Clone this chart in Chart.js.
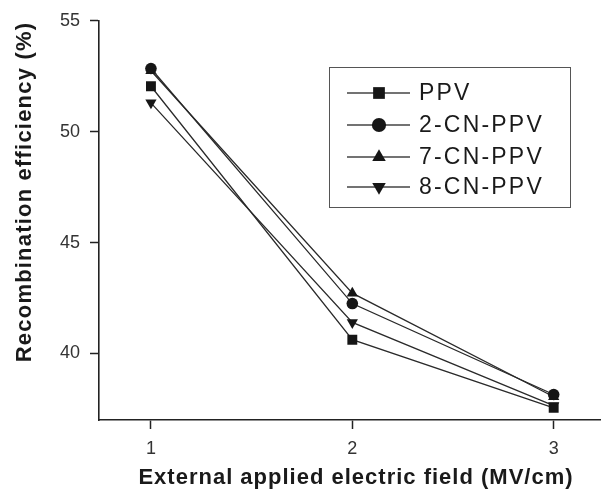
<!DOCTYPE html>
<html>
<head>
<meta charset="utf-8">
<script src="https://cdn.jsdelivr.net/npm/chart.js@4.4.1/dist/chart.umd.min.js"></script>
<style>
  html, body { margin: 0; padding: 0; background: #fff; }
  #wrap { width: 601px; height: 499px; position: relative; }
</style>
</head>
<body>
<div id="wrap"><canvas id="c" width="601" height="499"></canvas></div>
<script>
// ---- data ----
const fieldValues = [1, 2, 3];                 // MV/cm
const seriesNames = ['PPV', '2-CN-PPV', '7-CN-PPV', '8-CN-PPV'];
const ppv   = [52.05, 40.62, 37.55];
const cn2   = [52.85, 42.25, 38.15];
const cn7   = [52.75, 42.72, 38.05];
const cn8   = [51.30, 41.40, 37.65];
const xTickValues = [1, 2, 3];
const yTickValues = [40, 45, 50, 55];
const xTitle = 'External applied electric field (MV/cm)';
const yTitle = 'Recombination efficiency (%)';

// ---- styles ----
const FONT = '"Liberation Sans", Arial, Helvetica, sans-serif';
const markStyles = [
  { pointStyle: 'rect', radius: 7, rotation: 0 },
  { pointStyle: 'circle', radius: 5.8, rotation: 0 },
  { pointStyle: 'triangle', radius: 6.5, rotation: 0 },
  { pointStyle: 'triangle', radius: 6.5, rotation: 180 }
];
const seriesValues = [ppv, cn2, cn7, cn8];

const datasets = seriesValues.map((vals, i) => ({
  label: seriesNames[i],
  data: vals.map((v, k) => ({ x: fieldValues[k], y: v })),
  borderColor: '#2a2a2a',
  borderWidth: 1.3,
  backgroundColor: '#161616',
  pointBackgroundColor: '#161616',
  pointBorderColor: '#161616',
  pointBorderWidth: 0,
  pointStyle: markStyles[i].pointStyle,
  pointRadius: markStyles[i].radius,
  pointRotation: markStyles[i].rotation,
  tension: 0,
  fill: false
}));

const overlay = {
  id: 'overlay',
  afterDraw(chart) {
    const ctx = chart.ctx;
    ctx.save();
    // legend box
    const bx = 329.5, by = 67.5, bw = 241, bh = 140;
    ctx.strokeStyle = '#555';
    ctx.lineWidth = 1;
    ctx.strokeRect(bx, by, bw, bh);
    const rows = [93, 125, 157, 187];
    ctx.font = '23px ' + FONT;
    ctx.textBaseline = 'middle';
    ctx.textAlign = 'left';
    try { ctx.letterSpacing = '2.2px'; } catch (e) {}
    chart.data.datasets.forEach((ds, i) => {
      const y = rows[i];
      ctx.strokeStyle = '#444';
      ctx.lineWidth = 1.3;
      ctx.beginPath();
      ctx.moveTo(347, y);
      ctx.lineTo(410, y);
      ctx.stroke();
      ctx.fillStyle = '#161616';
      ctx.strokeStyle = '#161616';
      Chart.helpers.drawPoint(ctx, {
        pointStyle: ds.pointStyle,
        rotation: ds.pointRotation,
        radius: ds.pointRadius + 1.3,
        borderWidth: 0
      }, 379, y);
      ctx.fillStyle = '#1a1a1a';
      ctx.fillText(ds.label, 419, y + 1);
    });
    // axis titles
    ctx.fillStyle = '#1a1a1a';
    ctx.font = 'bold 22px ' + FONT;
    ctx.textAlign = 'center';
    ctx.textBaseline = 'middle';
    try { ctx.letterSpacing = '1px'; } catch (e) {}
    ctx.fillText(xTitle, 356, 478);
    ctx.translate(25, 192);
    ctx.rotate(-Math.PI / 2);
    try { ctx.letterSpacing = '1.2px'; } catch (e) {}
    ctx.fillText(yTitle, 0, 0);
    try { ctx.letterSpacing = '0px'; } catch (e) {}
    ctx.restore();
  }
};

new Chart(document.getElementById('c'), {
  type: 'line',
  data: { datasets },
  plugins: [overlay],
  options: {
    responsive: false,
    animation: false,
    devicePixelRatio: 1,
    layout: { autoPadding: false, padding: { top: 16, right: 0, bottom: 0, left: 0 } },
    plugins: { legend: { display: false }, tooltip: { enabled: false } },
    scales: {
      x: {
        type: 'linear',
        min: 0.742,
        max: 3.235,
        afterBuildTicks: s => { s.ticks = xTickValues.map(v => ({ value: v })); },
        afterFit: s => { s.height = 79; },
        grid: { display: true, drawOnChartArea: false, drawTicks: true, tickLength: 9, color: '#222', tickWidth: 1.5 },
        border: { display: true, color: '#222', width: 1.6 },
        ticks: { color: '#333', font: { family: FONT, size: 18 }, padding: 9, maxRotation: 0 }
      },
      y: {
        type: 'linear',
        min: 37,
        max: 55,
        afterBuildTicks: s => { s.ticks = yTickValues.map(v => ({ value: v })); },
        afterFit: s => { s.width = 99; },
        grid: { display: true, drawOnChartArea: false, drawTicks: true, tickLength: 9, color: '#222', tickWidth: 1.5 },
        border: { display: true, color: '#222', width: 1.6 },
        ticks: { color: '#333', font: { family: FONT, size: 18 }, padding: 10 }
      }
    }
  }
});
</script>
</body>
</html>
